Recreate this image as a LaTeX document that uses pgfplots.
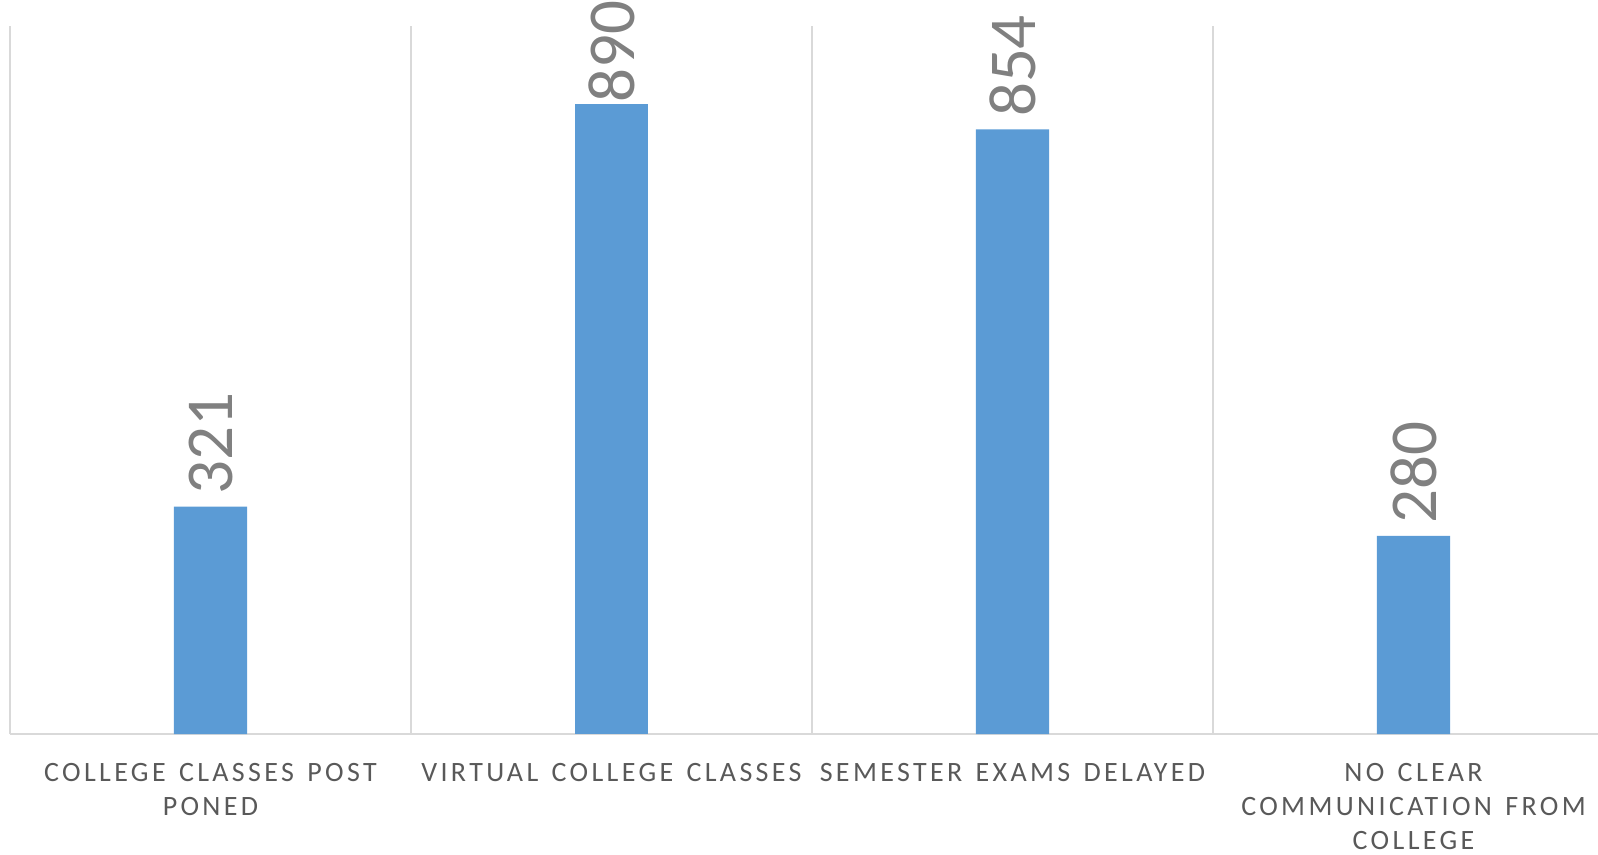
\documentclass[border=0pt]{standalone}
\usepackage{fontspec}
\setmainfont{Carlito}
\newfontfamily\spaced[LetterSpace=12]{Carlito}
\newcommand\ws{\ \hspace{2pt}}
\usepackage{pgfplots}
\pgfplotsset{compat=1.18}
\usetikzlibrary{calc}
\definecolor{barblue}{HTML}{5B9BD5}
\definecolor{gridgray}{HTML}{D9D9D9}
\definecolor{lblgray}{HTML}{595959}
\definecolor{valgray}{HTML}{808080}

\begin{document}
\begin{tikzpicture}
\begin{axis}[
    scale only axis,
    width=802pt, height=354pt,
    xmin=-0.5, xmax=3.5,
    ymin=0, ymax=1000,
    /pgf/number format/assume math mode=true,
    axis line style={draw=none},
    major tick length=0pt, minor tick length=0pt,
    xtick={0,1,2,3},
    xticklabels={
        {COLLEGE\ws CLASSES\ws POST\\PONED},
        {VIRTUAL\ws COLLEGE\ws CLASSES},
        {SEMESTER\ws EXAMS\ws DELAYED},
        {NO\ws CLEAR\\COMMUNICATION\ws FROM\\COLLEGE}},
    minor xtick={-0.5,0.5,1.5,2.5},
    xminorgrids,
    minor grid style={gridgray, line width=1pt},
    ytick={0}, yticklabels={},
    ymajorgrids,
    major grid style={gridgray, line width=1pt},
    xticklabel style={font={\spaced\fontsize{14}{17}\selectfont}, text=lblgray,
        align=center, text width=205pt, anchor=north, yshift=-11pt},
    nodes near coords,
    every node near coord/.append style={rotate=90, anchor=west,
        font={\fontsize{33.5}{33.5}\selectfont}, text=valgray, inner xsep=6pt},
]
\addplot[ybar, bar width=0.183, fill=barblue, draw=none] coordinates {
    (0,321) (2,854) (3,280)
};
% the tallest label sits right on its bar, as in the original
\addplot[ybar, bar width=0.183, fill=barblue, draw=none,
    every node near coord/.append style={inner xsep=0.5pt}] coordinates {
    (1,890)
};
\coordinate (bl) at (rel axis cs:0,0);
\coordinate (tr) at (rel axis cs:1,1);
\end{axis}
\pgfresetboundingbox
\path[use as bounding box] ($(bl)+(-5pt,-60.5pt)$) rectangle ($(tr)+(-8pt,13pt)$);
\end{tikzpicture}
\end{document}
